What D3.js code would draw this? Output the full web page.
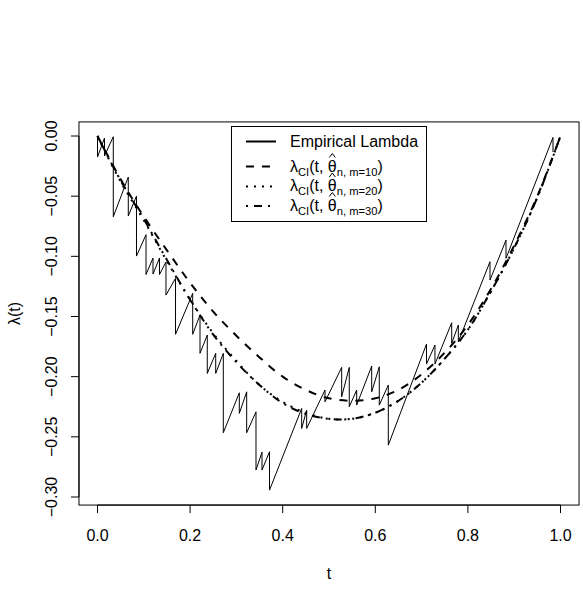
<!DOCTYPE html>
<html>
<head>
<meta charset="utf-8">
<script src="https://cdn.jsdelivr.net/npm/d3@7"></script>
<style>
  html, body { margin: 0; padding: 0; background: #fff; }
  text { font-family: "Liberation Sans", Arial, Helvetica, sans-serif; fill: #000; }
</style>
</head>
<body>
<svg id="chart" width="583" height="593"></svg>
<script>
// ---- data ----
const empT = [0, 0, 0.0151, 0.0151, 0.0341, 0.0341, 0.0665, 0.0665, 0.0842, 0.0842,
  0.1048, 0.1048, 0.1199, 0.1199, 0.1339, 0.1339, 0.1479, 0.1479, 0.1685, 0.1685,
  0.2056, 0.2056, 0.2214, 0.2214, 0.2371, 0.2371, 0.2553, 0.2553, 0.2717, 0.2717,
  0.3063, 0.3063, 0.3222, 0.3222, 0.3423, 0.3423, 0.3553, 0.3553, 0.3715, 0.3715,
  0.4410, 0.4410, 0.4518, 0.4518, 0.4914, 0.4914, 0.5274, 0.5274, 0.5438, 0.5438,
  0.5598, 0.5598, 0.5922, 0.5922, 0.6086, 0.6086, 0.6281, 0.6281, 0.7106, 0.7106,
  0.7289, 0.7289, 0.7650, 0.7650, 0.7793, 0.7793, 0.8477, 0.8477, 0.8823, 0.8823,
  0.9838, 0.9838];
const empLambda = [0, -0.0175, -0.0017, -0.0166, -0.0006, -0.0671, -0.0341, -0.0665, -0.0499, -0.0998,
  -0.0820, -0.1151, -0.1014, -0.1147, -0.1014, -0.1151, -0.1047, -0.1322, -0.1183, -0.1648,
  -0.1308, -0.1648, -0.1488, -0.1806, -0.1654, -0.1973, -0.1806, -0.1973, -0.1806, -0.2466,
  -0.2134, -0.2305, -0.2126, -0.2466, -0.2292, -0.2776, -0.2627, -0.2776, -0.2624, -0.2943,
  -0.2264, -0.2430, -0.2278, -0.2430, -0.2111, -0.2209, -0.1923, -0.2167, -0.1923, -0.2250,
  -0.2111, -0.2236, -0.1912, -0.2126, -0.1918, -0.2236, -0.2070, -0.2569, -0.1729, -0.1895,
  -0.1737, -0.1895, -0.1552, -0.1723, -0.1571, -0.1710, -0.1045, -0.1197, -0.0865, -0.1017,
  -0.0012, -0.0133];

const curveT = [0, 0.05, 0.10, 0.15, 0.20, 0.25, 0.30, 0.35, 0.40, 0.45, 0.50,
  0.55, 0.60, 0.65, 0.70, 0.75, 0.80, 0.85, 0.90, 0.95, 1.00];
const lambdaM10 = [0, -0.036, -0.067, -0.095, -0.122, -0.146, -0.166, -0.184, -0.200, -0.211, -0.218,
  -0.220, -0.218, -0.211, -0.198, -0.180, -0.157, -0.127, -0.091, -0.050, 0];
const lambdaM20 = [0, -0.038, -0.070, -0.104, -0.136, -0.164, -0.187, -0.207, -0.221, -0.230, -0.235,
  -0.235, -0.230, -0.220, -0.205, -0.185, -0.161, -0.129, -0.093, -0.051, 0];
const lambdaM30 = [0, -0.037, -0.069, -0.103, -0.136, -0.165, -0.188, -0.207, -0.222, -0.231, -0.235,
  -0.235, -0.230, -0.220, -0.205, -0.185, -0.161, -0.129, -0.093, -0.051, 0];

const xTicks = [0, 0.2, 0.4, 0.6, 0.8, 1.0];
const xTickLabels = ["0.0", "0.2", "0.4", "0.6", "0.8", "1.0"];
const yTicks = [0, -0.05, -0.10, -0.15, -0.20, -0.25, -0.30];
const yTickLabels = ["0.00", "\u22120.05", "\u22120.10", "\u22120.15", "\u22120.20", "\u22120.25", "\u22120.30"];
const legendSubs = ["n, m=10", "n, m=20", "n, m=30"];

// ---- scales ----
const svg = d3.select("#chart");
const x = d3.scaleLinear().domain([0, 1]).range([97.5, 560.5]);
const y = d3.scaleLinear().domain([-0.30, 0]).range([497, 136]);
const xlim = [-0.04, 1.04];
const ylim = [-0.3067, 0.0117];
const FS = 16;

// frame
svg.append("rect")
  .attr("x", x(xlim[0])).attr("y", y(ylim[1]))
  .attr("width", x(xlim[1]) - x(xlim[0])).attr("height", y(ylim[0]) - y(ylim[1]))
  .attr("fill", "none").attr("stroke", "#000").attr("stroke-width", 1);

// x axis
const xb = y(ylim[0]);
const xa = svg.append("g");
xa.append("line").attr("x1", x(0)).attr("x2", x(1)).attr("y1", xb).attr("y2", xb).attr("stroke", "#000");
xTicks.forEach((t, i) => {
  xa.append("line").attr("x1", x(t)).attr("x2", x(t)).attr("y1", xb).attr("y2", xb + 8).attr("stroke", "#000");
  xa.append("text").attr("x", x(t)).attr("y", 541).attr("text-anchor", "middle")
    .attr("font-size", FS).text(xTickLabels[i]);
});
svg.append("text").attr("x", (x(xlim[0]) + x(xlim[1])) / 2).attr("y", 579)
  .attr("text-anchor", "middle").attr("font-size", FS).text("t");

// y axis
const yb = x(xlim[0]);
const ya = svg.append("g");
ya.append("line").attr("x1", yb).attr("x2", yb).attr("y1", y(-0.30)).attr("y2", y(0)).attr("stroke", "#000");
yTicks.forEach((v, i) => {
  ya.append("line").attr("x1", yb - 8).attr("x2", yb).attr("y1", y(v)).attr("y2", y(v)).attr("stroke", "#000");
  ya.append("text").attr("transform", `translate(57,${y(v)}) rotate(-90)`)
    .attr("text-anchor", "middle").attr("font-size", FS).text(yTickLabels[i]);
});
svg.append("text").attr("transform", `translate(20,${(y(ylim[0]) + y(ylim[1])) / 2}) rotate(-90)`)
  .attr("text-anchor", "middle").attr("font-size", FS).text("\u03bb(t)");

// lines
const emp = empT.map((t, i) => [t, empLambda[i]]);
svg.append("path").datum(emp)
  .attr("d", d3.line().x(d => x(d[0])).y(d => y(d[1])))
  .attr("fill", "none").attr("stroke", "#000").attr("stroke-width", 1);

const curveLine = d3.line().x(d => x(d[0])).y(d => y(d[1])).curve(d3.curveCatmullRom.alpha(0.5));
const styles = [
  { data: lambdaM10, dash: "8,8" },
  { data: lambdaM20, dash: "2,6" },
  { data: lambdaM30, dash: "2,6,8,6" }
];
styles.forEach(s => {
  svg.append("path").datum(curveT.map((t, i) => [t, s.data[i]]))
    .attr("d", curveLine)
    .attr("fill", "none").attr("stroke", "#000").attr("stroke-width", 2)
    .attr("stroke-dasharray", s.dash);
});

// legend
const lg = svg.append("g");
lg.append("rect").attr("x", 231.5).attr("y", 126.5).attr("width", 195).attr("height", 95)
  .attr("fill", "#fff").attr("stroke", "#000").attr("stroke-width", 1);
const rowLineY = [141.5, 166.5, 186.5, 206];
const rowBase = [147, 171.5, 191, 210.5];
const dashes = [null, "8,8", "2,6", "2,6,8,6"];
rowLineY.forEach((ly, i) => {
  const l = lg.append("line").attr("x1", 246).attr("x2", 276).attr("y1", ly).attr("y2", ly)
    .attr("stroke", "#000").attr("stroke-width", 2);
  if (dashes[i]) l.attr("stroke-dasharray", dashes[i]);
});
lg.append("text").attr("x", 290).attr("y", rowBase[0]).attr("font-size", FS).text("Empirical Lambda");

legendSubs.forEach((sub, i) => {
  const base = rowBase[i + 1];
  const pieces = [
    { t: "\u03bb", s: FS, dy: 0 },
    { t: "CI", s: 11.2, dy: 4 },
    { t: "(t, ", s: FS, dy: 0 },
    { t: "\u03b8", s: FS, dy: 0, hat: true },
    { t: sub, s: 11.2, dy: 4 },
    { t: ")", s: FS, dy: 0 }
  ];
  let cx = 290;
  pieces.forEach(p => {
    const tx = lg.append("text").attr("x", cx).attr("y", base + p.dy).attr("font-size", p.s)
      .attr("xml:space", "preserve").style("white-space", "pre").text(p.t);
    const w = tx.node().getComputedTextLength();
    if (p.hat) {
      const hc = cx + w / 2;
      lg.append("path")
        .attr("d", `M${hc - 3},${base - 14} L${hc},${base - 18} L${hc + 3},${base - 14}`)
        .attr("fill", "none").attr("stroke", "#000").attr("stroke-width", 1);
    }
    cx += w;
  });
});
</script>
</body>
</html>
